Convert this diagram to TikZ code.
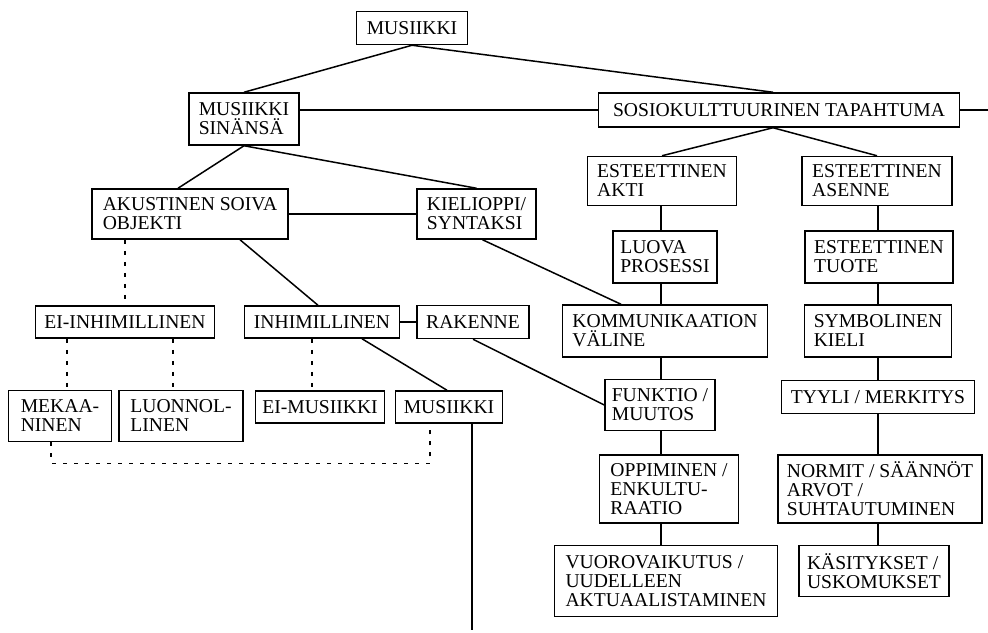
\documentclass[tikz,border=0pt]{standalone}
\usepackage{fontspec}
\setmainfont{Liberation Serif}
\usetikzlibrary{calc}
\tikzset{box/.style={draw,line width=0.75pt,align=left,inner sep=3pt,font=\fontsize{9.8pt}{9.5pt}\selectfont},link/.style={line width=0.75pt},dotlink/.style={link,dash pattern=on 2pt off 3.5pt}}

\begin{document}
\begin{tikzpicture}[x=0.5pt,y=-0.5pt]
\useasboundingbox (0,0) rectangle (988,632);
\foreach \n/\x/\y/\w/\h/\txt in {
  mus/412/28/55.5/16.5/MUSIIKKI,
  sin/244/119/55/26/{MUSIIKKI\\SINÄNSÄ},
  sos/779/110/180.5/17/{SOSIOKULTTUURINEN TAPAHTUMA},
  aku/190/214/98/25/{AKUSTINEN SOIVA\\OBJEKTI},
  kie/476.5/214/59.5/25/{KIELIOPPI/\\SYNTAKSI},
  akti/662/181/74.5/24.5/{ESTEETTINEN\\AKTI},
  ase/877/181/75/24.5/{ESTEETTINEN\\ASENNE},
  luo/665/257/52/26/{LUOVA\\PROSESSI},
  tuo/879/257/74/26/{ESTEETTINEN\\TUOTE},
  kom/665/331/102.5/26/{KOMMUNIKAATION\\VÄLINE},
  sym/878/331/73.5/26/{SYMBOLINEN\\KIELI},
  fun/660/405/55/25.5/{FUNKTIO /\\MUUTOS},
  tyy/878/397/96.5/16.5/{TYYLI / MERKITYS},
  opp/669/489/69.5/34/{OPPIMINEN /\\ENKULTU-\\RAATIO},
  nor/880/489/102/34/{NORMIT / SÄÄNNÖT\\ARVOT /\\SUHTAUTUMINEN},
  vuo/666/581/111.5/35.5/{VUOROVAIKUTUS /\\UUDELLEEN\\AKTUAALISTAMINEN},
  kas/874/571/75/25.5/{KÄSITYKSET /\\USKOMUKSET},
  eih/125/322/89.5/16/EI-INHIMILLINEN,
  inh/322/322/77.5/16/INHIMILLINEN,
  rak/473/322/56/16.5/RAKENNE,
  mek/60/416/51.5/25.5/{MEKAA-\\NINEN},
  luon/181/416/62/25.5/{LUONNOL-\\LINEN},
  eim/320/407/64.5/16/EI-MUSIIKKI,
  mus2/449/407/53.5/16/MUSIIKKI}{
  \node[box,minimum width=\w pt,minimum height=\h pt] (\n) at (\x,\y) {\txt};
}
\coordinate (offright) at (988,110);
\coordinate (offdown) at (472,630);
\coordinate (spineL) at (661,0);
\coordinate (spineR) at (878,0);

\draw[link] (mus.south) -- (sin.north);
\draw[link] (mus.south) -- ([xshift=-3pt]sos.north);
\draw[link] (sin.east |- sos.west) -- (sos.west);
\draw[link] (sos.east) -- (offright);
\draw[link] (sin.south) -- ([xshift=-6pt]aku.north);
\draw[link] (sin.south) -- (kie.north);
\draw[link] (aku.east) -- (kie.west);
\draw[link] ([xshift=-3pt]sos.south) -- (akti.north);
\draw[link] ([xshift=-3pt]sos.south) -- (ase.north);
\foreach \a/\b in {akti/luo,luo/kom,kom/fun,fun/opp,opp/vuo}
  \draw[link] (spineL |- \a.south) -- (spineL |- \b.north);
\foreach \a/\b in {ase/tuo,tuo/sym,sym/tyy,tyy/nor,nor/kas}
  \draw[link] (spineR |- \a.south) -- (spineR |- \b.north);
\draw[link] ([xshift=3pt]kie.south) -- ([xshift=-22pt]kom.north);
\draw[link] ([xshift=25pt]aku.south) -- ([xshift=-2pt]inh.north);
\draw[link] (inh.east) -- (rak.west);
\draw[link] (rak.south) -- (fun.west);
\draw[link] ([xshift=20pt]inh.south) -- ([xshift=-1pt]mus2.north);
\draw[link] (offdown |- mus2.south) -- (offdown);

% katkoviivat
\draw[dotlink] ([xshift=-32.5pt]aku.south) -- (eih.north);
\draw[dotlink] ([xshift=-29pt]eih.south) -- ([xshift=3.5pt]mek.north);
\draw[dotlink] ([xshift=24pt]eih.south) -- ([xshift=-4pt]luon.north);
\draw[dotlink] ([xshift=-5pt]inh.south) -- ([xshift=-4pt]eim.north);
\draw[dotlink] ([xshift=-4.5pt]mek.south) -- ++(0,21) -| ([xshift=-9.5pt]mus2.south);
\end{tikzpicture}
\end{document}
